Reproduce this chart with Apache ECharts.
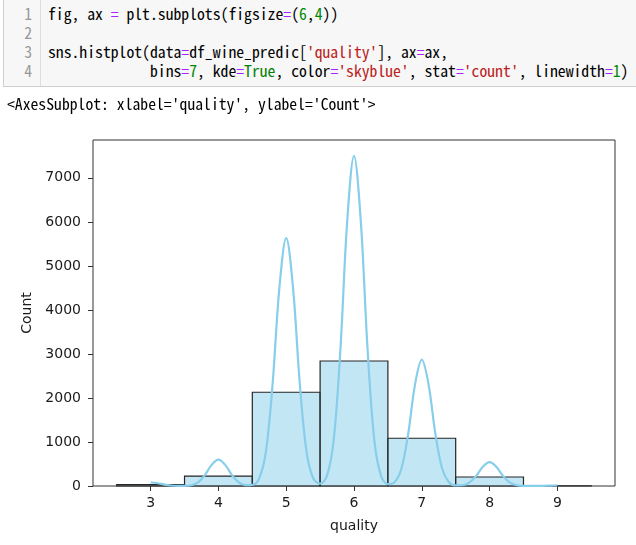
<!DOCTYPE html>
<html>
<head>
<meta charset="utf-8">
<script src="https://cdn.jsdelivr.net/npm/echarts@6.0.0/dist/echarts.min.js"></script>
<style>
  html, body { margin: 0; padding: 0; background: #fff; }
  body { width: 636px; height: 545px; position: relative; overflow: hidden; }
  #chart { position: absolute; left: 0; top: 0; width: 636px; height: 545px; }
  .mono { font-family: "Noto Sans Mono CJK KR", "Noto Sans Mono CJK SC", "DejaVu Sans Mono", monospace; font-size: 15.7px; line-height: 19px; white-space: pre; }
  .cell { position: absolute; left: 3px; top: -1px; width: 640px; height: 88px; box-sizing: border-box; background: #f7f7f7; border: 1px solid #cfcfcf; z-index: 2; }
  .gutter { position: absolute; left: 0; top: 0; width: 36px; height: 100%; border-right: 1px solid #ddd; color: #999; text-align: right; }
  .gutter div { padding-right: 8px; }
  .code { position: absolute; left: 44px; top: 4px; color: #000; }
  .lines { position: absolute; left: 0; top: 4px; width: 36px; }
  .op { color: #aa22ff; }
  .num { color: #008800; }
  .str { color: #ba2121; }
  .kw { color: #008000; }
  .out { position: absolute; left: 7px; top: 94px; color: #000; z-index: 2; }
</style>
</head>
<body>
<div id="chart"></div>
<div class="cell">
  <div class="gutter"><div class="lines mono"><div>1</div><div>2</div><div>3</div><div>4</div></div></div>
  <div class="code mono">fig, ax <span class="op">=</span> plt.subplots(figsize<span class="op">=</span>(<span class="num">6</span>,<span class="num">4</span>))

sns.histplot(data<span class="op">=</span>df_wine_predic[<span class="str">'quality'</span>], ax<span class="op">=</span>ax,
             bins<span class="op">=</span><span class="num">7</span>, kde<span class="op">=</span><span class="kw">True</span>, color<span class="op">=</span><span class="str">'skyblue'</span>, stat<span class="op">=</span><span class="str">'count'</span>, linewidth<span class="op">=</span><span class="num">1</span>)</div>
</div>
<div class="out mono">&lt;AxesSubplot: xlabel='quality', ylabel='Count'&gt;</div>
<script>
// histogram bins (quality 3..9, width 1)
const binLeft = [2.5, 3.5, 4.5, 5.5, 6.5, 7.5, 8.5];
const binRight = [3.5, 4.5, 5.5, 6.5, 7.5, 8.5, 9.5];
const counts = [30, 226, 2130, 2840, 1085, 205, 6];

// kde curve
const kdeX = [3.0, 3.1, 3.2, 3.3, 3.4, 3.5, 3.6, 3.7, 3.8, 3.9,
  4.0, 4.1, 4.2, 4.3, 4.4, 4.5, 4.6, 4.7, 4.8, 4.9,
  5.0, 5.1, 5.2, 5.3, 5.4, 5.5, 5.6, 5.7, 5.8, 5.9,
  6.0, 6.1, 6.2, 6.3, 6.4, 6.5, 6.6, 6.7, 6.8, 6.9,
  7.0, 7.1, 7.2, 7.3, 7.4, 7.5, 7.6, 7.7, 7.8, 7.9,
  8.0, 8.1, 8.2, 8.3, 8.4, 8.5, 8.6, 8.7, 8.8, 8.9, 9.0];
const kdeY = [79, 63, 33, 11, 3, 3, 18, 83, 248, 480,
  598, 480, 248, 83, 20, 26, 167, 777, 2334, 4513,
  5630, 4513, 2334, 777, 170, 54, 225, 1037, 3113, 6020,
  7501, 6020, 3113, 1037, 224, 43, 88, 397, 1191, 2304,
  2871, 2304, 1191, 397, 85, 14, 17, 75, 225, 435,
  542, 435, 225, 75, 16, 2, 1, 2, 5, 10, 13];

const xTicks = [3, 4, 5, 6, 7, 8, 9];
const yTicks = [0, 1000, 2000, 3000, 4000, 5000, 6000, 7000];

var chart = echarts.init(document.getElementById('chart'));
var labelFont = { color: '#1a1a1a', fontSize: 14, fontFamily: 'DejaVu Sans' };

const option = {
  animation: false,
  grid: {
    left: 93, right: 21, top: 140, bottom: 59,
    show: true, borderColor: '#333', borderWidth: 1, backgroundColor: 'transparent'
  },
  xAxis: {
    type: 'value',
    min: 2.15,
    max: 9.85,
    axisLine: { show: false },
    axisTick: { show: true, length: 5, customValues: xTicks, lineStyle: { color: '#333' } },
    axisLabel: Object.assign({ margin: 10, customValues: xTicks, formatter: function (v) { return String(v); } }, labelFont),
    splitLine: { show: false },
    name: 'quality',
    nameLocation: 'middle',
    nameGap: 33,
    nameTextStyle: labelFont
  },
  yAxis: {
    type: 'value',
    min: 0,
    max: 7860,
    axisLine: { show: false },
    axisTick: { show: true, length: 5, customValues: yTicks, lineStyle: { color: '#333' } },
    axisLabel: Object.assign({ margin: 12, customValues: yTicks, formatter: function (v) { return String(v); } }, labelFont),
    splitLine: { show: false },
    name: 'Count',
    nameLocation: 'middle',
    nameGap: 52,
    nameTextStyle: labelFont
  },
  series: [{
    type: 'custom',
    data: counts.map(function (c, i) { return [binLeft[i], binRight[i], c]; }),
    encode: { x: [0, 1], y: 2 },
    renderItem: function (params, api) {
      var p0 = api.coord([api.value(0), api.value(2)]);
      var p1 = api.coord([api.value(1), 0]);
      return {
        type: 'rect',
        shape: { x: p0[0], y: p0[1], width: p1[0] - p0[0], height: p1[1] - p0[1] },
        style: { fill: 'rgba(135,206,235,0.5)', stroke: '#262626', lineWidth: 1.2 }
      };
    },
    z: 2
  }, {
    type: 'line',
    data: kdeX.map(function (x, i) { return [x, kdeY[i]]; }),
    smooth: 0.35,
    showSymbol: false,
    lineStyle: { color: '#87ceeb', width: 2.2 },
    z: 3
  }]
};

chart.setOption(option, true);
</script>
</body>
</html>
